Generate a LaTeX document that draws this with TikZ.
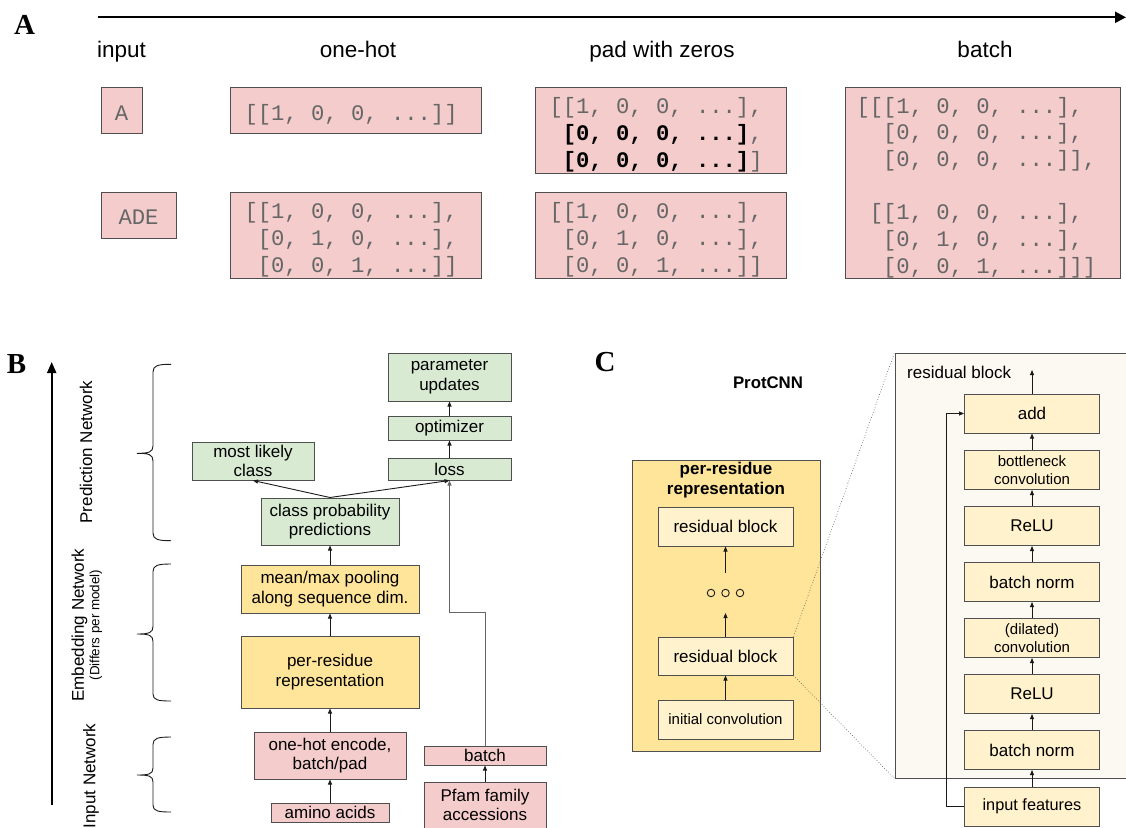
\documentclass[tikz,border=0pt]{standalone}
\usepackage{fontspec}
\setmainfont{Liberation Sans}
\newfontfamily\monof{Liberation Mono}
\newfontfamily\serf{Liberation Serif}
\usetikzlibrary{arrows.meta}
\definecolor{pinkf}{HTML}{F4CCCC}
\definecolor{greenf}{HTML}{D9EAD3}
\definecolor{yelf}{HTML}{FFE599}
\definecolor{lyelf}{HTML}{FFF2CC}
\definecolor{contf}{HTML}{FCF8F2}
\definecolor{bordc}{HTML}{4F4F4F}
\definecolor{monoc}{HTML}{666666}
\definecolor{linec}{HTML}{1A1A1A}
\newcommand\mst{\spaceskip=0pt\xspaceskip=0pt\relax\rule{0pt}{25pt}}
\begin{document}
\begin{tikzpicture}[x=1pt,y=-1pt,
  box/.style={draw=bordc, line width=1pt, inner sep=0pt, align=center, text=black},
  mbox/.style={box, fill=pinkf, anchor=north west, align=left, inner ysep=0pt,
    font=\monof\fontsize{22.2}{26.7}\selectfont, text=monoc},
  panel/.style={inner sep=0pt, font=\serf\bfseries\fontsize{29}{30}\selectfont},
  hdr/.style={inner sep=0pt, anchor=base, font=\fontsize{22.5}{26}\selectfont},
  bb/.style={box, font=\fontsize{17}{19.7}\selectfont},
  side/.style={inner sep=0pt, rotate=90, font=\fontsize{17}{20}\selectfont},
  cb/.style={box, fill=lyelf, minimum width=135pt, minimum height=39pt, font=\fontsize{17}{20}\selectfont},
  cbs/.style={cb, font=\fontsize{15}{18}\selectfont},
  conn/.style={draw=linec, line width=0.9pt, -{Triangle[length=5pt,width=4pt]}},
  brc/.style={draw=linec, line width=0.9pt},
  dotc/.style={circle, draw=linec, line width=0.9pt, minimum size=7.5pt, inner sep=0pt}
]
\useasboundingbox (0,0) rectangle (1126,827);

% ---------------- Panel A ----------------
\node[panel] (labA) at (24.5,25) {A};
\coordinate (arA0) at (98,17.3);
\coordinate (arA1) at (1126,17.3);
\draw[line width=2.2pt, -{Triangle[length=11pt,width=11pt]}] (arA0) -- (arA1);

\node[hdr] (hin) at (121.5,57) {input};
\node[hdr] (hoh) at (358,57) {one-hot};
\node[hdr] (hpad) at (662,57) {pad with zeros};
\node[hdr] (hbat) at (985,57) {batch};

\node[box, fill=pinkf, font=\monof\fontsize{22.2}{26.7}\selectfont, text=monoc,
  minimum width=41pt, minimum height=46pt] (inA) at (121.5,110) {\rule{0pt}{20pt}A};
\node[box, fill=pinkf, font=\monof\fontsize{22.2}{26.7}\selectfont, text=monoc,
  minimum width=75pt, minimum height=46pt] (inADE) at (138.5,215) {\rule{0pt}{19pt}ADE};

\node[mbox, inner xsep=14pt, text width=223pt, minimum height=46pt] (oh1) at (230,87)
  {\mst[[1, 0, 0, ...]]};
\node[mbox, inner xsep=14pt, text width=223pt, minimum height=86pt] (oh2) at (230,192)
  {\mst[[1, 0, 0, ...],\\ \mbox{}~[0, 1, 0, ...],\\ \mbox{}~[0, 0, 1, ...]]};

\node[mbox, inner xsep=14pt, text width=223pt, minimum height=86pt] (pad1) at (535,87)
  {\mst[[1, 0, 0, ...],\\
   \mbox{}~{\bfseries\color{black}[0, 0, 0, ...]},\\
   \mbox{}~{\bfseries\color{black}[0, 0, 0, ...]}]};
\node[mbox, inner xsep=14pt, text width=223pt, minimum height=86pt] (pad2) at (535,192)
  {\mst[[1, 0, 0, ...],\\ \mbox{}~[0, 1, 0, ...],\\ \mbox{}~[0, 0, 1, ...]]};

\node[mbox, inner xsep=11pt, text width=253pt, minimum height=191pt] (bat) at (845,87)
  {\mst[[[1, 0, 0, ...],\\
   \mbox{}~~[0, 0, 0, ...],\\
   \mbox{}~~[0, 0, 0, ...]],\\
   \mbox{}\\
   \mbox{}~[[1, 0, 0, ...],\\
   \mbox{}~~[0, 1, 0, ...],\\
   \mbox{}~~[0, 0, 1, ...]]]};

% ---------------- Panel B ----------------
\node[panel] (labB) at (16.5,364) {B};
\coordinate (arB0) at (51.7,805);
\coordinate (arB1) at (51.7,362);
\draw[line width=2pt, -{Triangle[length=11pt,width=9pt]}] (arB0) -- (arB1);

% braces
\draw[brc] (171,364.3) .. controls (158,364.3) and (153,365.5) .. (153,372)
  -- (153,446) .. controls (153,452) and (149,453.3) .. (137,453.3)
  .. controls (149,453.3) and (153,454.5) .. (153,461)
  -- (153,533) .. controls (153,539.5) and (158,540.7) .. (171,540.7);
\draw[brc] (171,564) .. controls (158,564) and (153,565.2) .. (153,571.5)
  -- (153,626.5) .. controls (153,632.7) and (149,634) .. (137,634)
  .. controls (149,634) and (153,635.2) .. (153,641.5)
  -- (153,694) .. controls (153,700) and (158,701) .. (171,701);
\draw[brc] (171,737) .. controls (158,737) and (153,738.2) .. (153,744.5)
  -- (153,768) .. controls (153,774) and (149,775) .. (137,775)
  .. controls (149,775) and (153,776) .. (153,782)
  -- (153,805) .. controls (153,811) and (158,812) .. (171,812);

\node[side] (lpred) at (86,452) {Prediction Network};
\node[side] (lemb) at (79.5,625) {Embedding Network};
\node[side, font=\fontsize{13.4}{16}\selectfont] (ldiff) at (96,625) {(Differs per model)};
\node[side] (linp) at (91,776) {Input Network};

\node[bb, fill=greenf, minimum width=123pt, minimum height=48pt] (pu) at (449.5,377) {parameter\\updates};
\node[bb, fill=greenf, minimum width=123pt, minimum height=24pt] (opt) at (449.5,428) {optimizer};
\node[bb, fill=greenf, minimum width=123pt, minimum height=22pt] (loss) at (449.5,469) {loss};
\node[bb, fill=greenf, minimum width=122pt, minimum height=38pt] (mlc) at (253,461) {most likely\\class};
\node[bb, fill=greenf, minimum width=138pt, minimum height=47pt] (cp) at (330,521.5) {class probability\\predictions};
\node[bb, fill=yelf, minimum width=178pt, minimum height=48pt] (mm) at (330,589) {mean/max pooling\\along sequence dim.};
\node[bb, fill=yelf, minimum width=178pt, minimum height=72pt] (pr) at (330,672) {per-residue\\representation};
\node[bb, fill=pinkf, minimum width=152pt, minimum height=47pt] (oh) at (330,755.5) {one-hot encode,\\batch/pad};
\node[bb, fill=pinkf, minimum width=118pt, minimum height=19pt] (aa) at (330,812.5) {amino acids};
\node[bb, fill=pinkf, minimum width=122pt, minimum height=19pt] (bt) at (485,755.5) {batch};
\node[bb, fill=pinkf, minimum width=122pt, minimum height=46pt] (pf) at (485,805) {Pfam family\\accessions};

\draw[conn] (aa.north) -- (oh.south);
\draw[conn] (oh.north) -- (pr.south);
\draw[conn] (pr.north) -- (mm.south);
\draw[conn] (mm.north) -- (cp.south);
\draw[conn] (cp.north) -- (mlc.south);
\draw[conn] (cp.north) -- (loss.south);
\draw[conn] (loss.north) -- (opt.south);
\draw[conn] (opt.north) -- (pu.south);
\draw[conn] (pf.north) -- (bt.south);
\draw[conn, draw=black!60] (bt.north) -- ++(0,-133) -| (loss.south);

% ---------------- Panel C ----------------
\node[panel] (labC) at (605,362.5) {C};
\node[inner sep=0pt, font=\bfseries\fontsize{16.8}{20}\selectfont] (ptc) at (768,383) {ProtCNN};

\node[box, fill=yelf, minimum width=188pt, minimum height=291pt] (prc) at (726,605.5) {};
\node[inner sep=0pt, align=center, font=\bfseries\fontsize{17}{20}\selectfont] (prt) at (726,480) {per-residue\\representation};
\node[cb] (rb1) at (725.5,526.5) {residual block};
\node[dotc] (d1) at (711,593) {};
\node[dotc] (d2) at (725.5,593) {};
\node[dotc] (d3) at (740,593) {};
\coordinate (dtop) at (725.5,573);
\coordinate (dbot) at (725.5,613);
\node[cb, minimum height=38pt] (rb2) at (725.5,656) {residual block};
\node[cbs] (ic) at (725.5,719.5) {initial convolution};
\draw[conn] (dtop) -- (rb1.south);
\draw[conn] (rb2.north) -- (dbot);
\draw[conn] (ic.north) -- (rb2.south);

\node[box, fill=contf, minimum width=236pt, minimum height=425pt] (cont) at (1013,565.5) {};
\node[anchor=west, inner sep=0pt, font=\fontsize{17}{20}\selectfont] (contl) at (907,372) {residual block};

\node[cb] (add) at (1032,413.5) {add};
\node[cbs] (bnk) at (1032,470) {bottleneck\\convolution};
\node[cb] (re2) at (1032,526) {ReLU};
\node[cb] (bn2) at (1032,582) {batch norm};
\node[cbs] (dil) at (1032,638) {(dilated)\\convolution};
\node[cb] (re1) at (1032,694) {ReLU};
\node[cb] (bn1) at (1032,750) {batch norm};
\node[cb, font=\fontsize{16.3}{20}\selectfont] (inf) at (1032,806.5) {input features};
\coordinate (outtop) at (1032,370);

\draw[conn] (add.north) -- (outtop);
\draw[conn] (bnk.north) -- (add.south);
\draw[conn] (re2.north) -- (bnk.south);
\draw[conn] (bn2.north) -- (re2.south);
\draw[conn] (dil.north) -- (bn2.south);
\draw[conn] (re1.north) -- (dil.south);
\draw[conn] (bn1.north) -- (re1.south);
\draw[conn] (inf.north) -- (bn1.south);
\draw[conn] (inf.west) -- ++(-18,0) |- (add.west);

\draw[dotted, draw=black!60, line width=0.7pt] (rb2.north east) -- (cont.north west);
\draw[dotted, draw=black!60, line width=0.7pt] (rb2.south east) -- (cont.south west);
\end{tikzpicture}
\end{document}
